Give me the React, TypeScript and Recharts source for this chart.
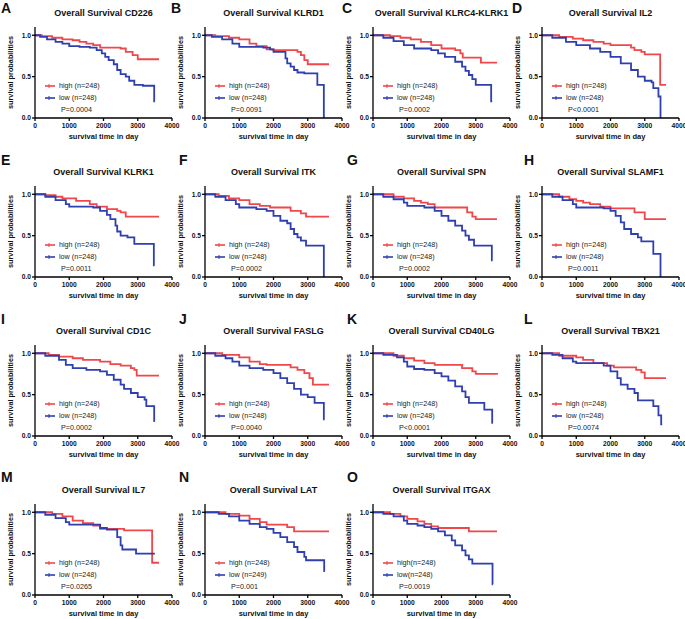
import { Legend, Line, LineChart, XAxis, YAxis } from "recharts";

type Pt = [number, number];

const letters = ["A", "B", "C", "D", "E", "F", "G", "H", "I", "J", "K", "L", "M", "N", "O"];
const genes = ["CD226", "KLRD1", "KLRC4-KLRK1", "IL2", "KLRK1", "ITK", "SPN", "SLAMF1", "CD1C", "FASLG", "CD40LG", "TBX21", "IL7", "LAT", "ITGAX"];
const pValues = ["P=0.0004", "P=0.0091", "P=0.0002", "P<0.0001", "P=0.0011", "P=0.0002", "P=0.0002", "P=0.0011", "P=0.0002", "P=0.0040", "P<0.0001", "P=0.0074", "P=0.0265", "P=0.001", "P=0.0019"];
const highLabels = ["high (n=248)", "high (n=248)", "high (n=248)", "high (n=248)", "high (n=248)", "high (n=248)", "high (n=248)", "high (n=248)", "high (n=248)", "high (n=248)", "high (n=248)", "high (n=248)", "high (n=248)", "high (n=248)", "high(n=248)"];
const lowLabels = ["low (n=248)", "low (n=248)", "low (n=248)", "low (n=248)", "low (n=248)", "low (n=248)", "low (n=248)", "low (n=248)", "low (n=248)", "low (n=248)", "low (n=248)", "low (n=248)", "low (n=248)", "low (n=249)", "low(n=248)"];
const xTicks = [0, 1000, 2000, 3000, 4000];
const yTicks = [0, 0.5, 1.0];

const cd226High: Pt[] = [[0, 1], [200, 0.99], [500, 0.97], [800, 0.95], [1100, 0.94], [1300, 0.92], [1500, 0.9], [1700, 0.88], [1900, 0.85], [2500, 0.84], [2650, 0.8], [2850, 0.76], [3000, 0.71], [3620, 0.71]];
const cd226Low: Pt[] = [[0, 1], [150, 0.98], [350, 0.95], [600, 0.92], [800, 0.9], [1000, 0.87], [1300, 0.86], [1600, 0.85], [1800, 0.82], [1950, 0.78], [2050, 0.74], [2150, 0.7], [2300, 0.65], [2400, 0.58], [2500, 0.53], [2650, 0.5], [2750, 0.45], [2900, 0.4], [3150, 0.39], [3480, 0.2], [3500, 0.2]];
const klrd1High: Pt[] = [[0, 1], [300, 0.99], [700, 0.97], [1000, 0.95], [1300, 0.9], [1500, 0.87], [1800, 0.83], [2000, 0.82], [2700, 0.8], [2800, 0.76], [2900, 0.7], [3000, 0.65], [3620, 0.65]];
const klrd1Low: Pt[] = [[0, 1], [200, 0.98], [500, 0.95], [800, 0.9], [1000, 0.86], [1700, 0.85], [1900, 0.83], [2000, 0.8], [2350, 0.72], [2400, 0.66], [2500, 0.62], [2600, 0.58], [2700, 0.55], [2900, 0.54], [3280, 0.4], [3470, 0]];
const klrc4High: Pt[] = [[0, 1], [500, 0.99], [800, 0.97], [1100, 0.95], [1400, 0.92], [1700, 0.88], [2000, 0.84], [2400, 0.82], [2550, 0.78], [2620, 0.73], [3150, 0.67], [3620, 0.67]];
const klrc4Low: Pt[] = [[0, 1], [300, 0.97], [600, 0.93], [900, 0.88], [1200, 0.84], [1700, 0.82], [1900, 0.78], [2100, 0.74], [2400, 0.68], [2600, 0.62], [2700, 0.57], [2800, 0.52], [2900, 0.47], [3000, 0.4], [3450, 0.2], [3480, 0.2]];
const il2High: Pt[] = [[0, 1], [500, 0.98], [900, 0.96], [1200, 0.94], [1500, 0.92], [1800, 0.9], [2000, 0.88], [2600, 0.85], [2700, 0.82], [2900, 0.8], [3000, 0.77], [3450, 0.4], [3620, 0.4]];
const il2Low: Pt[] = [[0, 1], [300, 0.97], [700, 0.92], [1000, 0.88], [1400, 0.84], [1700, 0.8], [2000, 0.74], [2300, 0.66], [2600, 0.58], [2800, 0.5], [3000, 0.45], [3200, 0.43], [3250, 0.36], [3400, 0.26], [3460, 0]];
const klrk1High: Pt[] = [[0, 1], [300, 0.99], [600, 0.97], [800, 0.95], [1200, 0.92], [1600, 0.88], [1800, 0.85], [2100, 0.82], [2400, 0.8], [2500, 0.78], [2650, 0.73], [3620, 0.73]];
const klrk1Low: Pt[] = [[0, 1], [300, 0.97], [600, 0.93], [900, 0.88], [1000, 0.85], [1700, 0.84], [1900, 0.8], [2100, 0.75], [2200, 0.7], [2350, 0.62], [2400, 0.55], [2500, 0.5], [2700, 0.48], [2900, 0.4], [3470, 0.14], [3490, 0.14]];
const itkHigh: Pt[] = [[0, 1], [400, 0.98], [700, 0.95], [1000, 0.93], [1300, 0.88], [1600, 0.86], [1900, 0.84], [2500, 0.8], [2800, 0.77], [2950, 0.73], [3620, 0.73]];
const itkLow: Pt[] = [[0, 1], [300, 0.97], [600, 0.93], [900, 0.88], [1000, 0.84], [1500, 0.82], [1800, 0.8], [2000, 0.74], [2200, 0.68], [2400, 0.65], [2500, 0.58], [2600, 0.52], [2700, 0.48], [2800, 0.44], [2950, 0.38], [3470, 0]];
const spnHigh: Pt[] = [[0, 1], [600, 0.97], [900, 0.95], [1200, 0.92], [1400, 0.9], [1600, 0.88], [1800, 0.84], [2750, 0.78], [2900, 0.73], [3000, 0.7], [3620, 0.7]];
const spnLow: Pt[] = [[0, 1], [300, 0.97], [600, 0.94], [900, 0.9], [1000, 0.86], [1500, 0.84], [1800, 0.8], [2000, 0.74], [2200, 0.68], [2400, 0.62], [2600, 0.56], [2700, 0.5], [2800, 0.45], [2950, 0.38], [3470, 0.2], [3490, 0.2]];
const slamf1High: Pt[] = [[0, 1], [500, 0.97], [800, 0.94], [1000, 0.92], [1200, 0.9], [1400, 0.88], [1700, 0.85], [2000, 0.83], [2700, 0.78], [3000, 0.7], [3620, 0.7]];
const slamf1Low: Pt[] = [[0, 1], [300, 0.97], [600, 0.93], [900, 0.88], [1000, 0.84], [1800, 0.83], [2000, 0.8], [2150, 0.74], [2300, 0.66], [2400, 0.58], [2600, 0.52], [2800, 0.48], [2900, 0.43], [3250, 0.28], [3460, 0]];
const cd1cHigh: Pt[] = [[0, 1], [400, 0.98], [700, 0.96], [1100, 0.94], [1400, 0.92], [1900, 0.9], [2200, 0.87], [2500, 0.85], [2800, 0.82], [2900, 0.8], [2970, 0.73], [3620, 0.73]];
const cd1cLow: Pt[] = [[0, 1], [300, 0.97], [700, 0.92], [900, 0.86], [1100, 0.82], [1500, 0.8], [1900, 0.78], [2100, 0.74], [2300, 0.68], [2500, 0.62], [2600, 0.57], [2800, 0.52], [3000, 0.47], [3200, 0.44], [3250, 0.36], [3480, 0.18], [3500, 0.18]];
const faslgHigh: Pt[] = [[0, 1], [500, 0.98], [1000, 0.95], [1300, 0.9], [1600, 0.87], [1800, 0.86], [2500, 0.83], [2700, 0.8], [2900, 0.76], [3050, 0.7], [3150, 0.62], [3620, 0.62]];
const faslgLow: Pt[] = [[0, 1], [300, 0.97], [600, 0.94], [800, 0.9], [1000, 0.85], [1300, 0.82], [1700, 0.8], [2000, 0.76], [2200, 0.7], [2400, 0.64], [2600, 0.57], [2800, 0.5], [3000, 0.47], [3200, 0.4], [3470, 0.2], [3490, 0.2]];
const cd40lgHigh: Pt[] = [[0, 1], [600, 0.97], [900, 0.94], [1200, 0.91], [1500, 0.88], [1800, 0.86], [2600, 0.82], [2900, 0.78], [3000, 0.75], [3620, 0.74]];
const cd40lgLow: Pt[] = [[0, 1], [300, 0.98], [700, 0.95], [900, 0.9], [1000, 0.84], [1200, 0.81], [1500, 0.8], [1800, 0.76], [2000, 0.72], [2200, 0.67], [2400, 0.6], [2600, 0.54], [2700, 0.47], [2800, 0.4], [3250, 0.32], [3480, 0.16], [3500, 0.16]];
const tbx21High: Pt[] = [[0, 1], [500, 0.97], [1000, 0.95], [1200, 0.92], [1500, 0.88], [1900, 0.85], [2100, 0.83], [2750, 0.8], [2900, 0.77], [3000, 0.7], [3620, 0.7]];
const tbx21Low: Pt[] = [[0, 1], [300, 0.98], [600, 0.94], [900, 0.9], [1000, 0.88], [1800, 0.85], [2000, 0.78], [2200, 0.7], [2300, 0.62], [2500, 0.57], [2700, 0.52], [2800, 0.43], [3250, 0.36], [3400, 0.25], [3480, 0.14], [3510, 0.14]];
const il7High: Pt[] = [[0, 1], [500, 0.98], [800, 0.95], [1100, 0.9], [1400, 0.87], [1700, 0.84], [1900, 0.8], [2600, 0.78], [3420, 0.39], [3620, 0.39]];
const il7Low: Pt[] = [[0, 1], [300, 0.97], [600, 0.93], [900, 0.88], [1000, 0.85], [1900, 0.81], [2100, 0.79], [2400, 0.7], [2500, 0.6], [2550, 0.55], [2950, 0.5], [3500, 0.5]];
const latHigh: Pt[] = [[0, 1], [600, 0.98], [1000, 0.96], [1300, 0.92], [1600, 0.88], [1800, 0.85], [2400, 0.82], [2600, 0.77], [3620, 0.77]];
const latLow: Pt[] = [[0, 1], [400, 0.98], [700, 0.95], [1000, 0.9], [1300, 0.86], [1600, 0.82], [1800, 0.8], [2000, 0.75], [2200, 0.7], [2400, 0.64], [2600, 0.58], [2700, 0.52], [2900, 0.46], [2950, 0.42], [3480, 0.29], [3500, 0.29]];
const itgaxHigh: Pt[] = [[0, 1], [500, 0.98], [800, 0.95], [1000, 0.92], [1300, 0.89], [1500, 0.86], [1700, 0.83], [1900, 0.81], [2800, 0.77], [3620, 0.77]];
const itgaxLow: Pt[] = [[0, 1], [300, 0.98], [600, 0.95], [900, 0.9], [1000, 0.86], [1300, 0.84], [1500, 0.82], [1700, 0.8], [1900, 0.77], [2100, 0.72], [2300, 0.66], [2400, 0.6], [2600, 0.54], [2700, 0.48], [2800, 0.43], [2900, 0.38], [3490, 0.13], [3500, 0.13]];

const highCurves = [cd226High, klrd1High, klrc4High, il2High, klrk1High, itkHigh, spnHigh, slamf1High, cd1cHigh, faslgHigh, cd40lgHigh, tbx21High, il7High, latHigh, itgaxHigh];
const lowCurves = [cd226Low, klrd1Low, klrc4Low, il2Low, klrk1Low, itkLow, spnLow, slamf1Low, cd1cLow, faslgLow, cd40lgLow, tbx21Low, il7Low, latLow, itgaxLow];

const RED = "#f0474a";
const BLUE = "#2f3fb0";
const FONT = "'Liberation Sans', Arial, Helvetica, sans-serif";

const colLeft = [0, 170, 338, 507];
const rowTop = [0, 159, 318, 477];
const letterX = [[1, 171, 342, 512], [1, 179, 347, 524], [1, 179, 347, 524], [1, 179, 347, 524]];
const letterY = [1, 153, 312, 470];

const toRows = (pts: Pt[]) => pts.map(([t, s]) => ({ t, s }));

function LegendBox({ payload, p }: any) {
  return (
    <div style={{ fontSize: 7.2, lineHeight: "12px", color: "#222", whiteSpace: "nowrap" }}>
      {(payload || []).map((e: any) => (
        <div key={e.value} style={{ display: "flex", alignItems: "center" }}>
          <svg width={10} height={12} style={{ marginRight: 4 }}>
            <line x1={0} y1={6} x2={10} y2={6} stroke={e.color} strokeWidth={1.6} />
            <line x1={4} y1={4} x2={4} y2={8} stroke={e.color} strokeWidth={1} />
          </svg>
          <span>{e.value}</span>
        </div>
      ))}
      <div style={{ marginLeft: 16 }}>{p}</div>
    </div>
  );
}

function Panel({ i }: { i: number }) {
  const row = Math.floor(i / 4);
  const col = i % 4;
  const left = colLeft[col];
  const top = rowTop[row];
  const axis = { stroke: "#000", strokeWidth: 1.3 };
  const tick = { fontSize: 6.7, fontWeight: 700, fill: "#111" };
  return (
    <>
      <div style={{ position: "absolute", left: letterX[row][col], top: letterY[row], fontSize: 14, fontWeight: 700, lineHeight: "14px" }}>
        {letters[i]}
      </div>
      <div style={{ position: "absolute", left: left + 35, top: top + 8.5, width: 137, textAlign: "center", fontSize: 9, fontWeight: 700, lineHeight: "9px", whiteSpace: "nowrap" }}>
        Overall Survival {genes[i]}
      </div>
      <div style={{ position: "absolute", left, top }}>
        <LineChart width={180} height={144} margin={{ top: 27, right: 8, bottom: 0, left: 0 }}>
          <XAxis
            type="number"
            dataKey="t"
            domain={[0, 4000]}
            ticks={xTicks}
            interval={0}
            height={26}
            tickSize={3}
            axisLine={axis}
            tickLine={axis}
            tick={tick}
            label={{ value: "survival time in day", position: "insideBottom", offset: 5, style: { fontSize: 7.5, fontWeight: 700, fill: "#111" } }}
          />
          <YAxis
            type="number"
            domain={[0, 1.1]}
            ticks={yTicks}
            interval={0}
            width={35}
            tickSize={3}
            tickMargin={1}
            axisLine={axis}
            tickLine={axis}
            tick={tick}
            tickFormatter={(v: number) => v.toFixed(1)}
            label={{ value: "survival probabilities", angle: -90, position: "insideLeft", offset: 10, style: { textAnchor: "middle", fontSize: 7.3, fontWeight: 700, fill: "#111" } }}
          />
          <Legend
            layout="vertical"
            align="center"
            verticalAlign="middle"
            wrapperStyle={{ left: 45, top: 80, width: 110 }}
            content={(props: any) => <LegendBox payload={props.payload} p={pValues[i]} />}
          />
          <Line data={toRows(highCurves[i])} dataKey="s" name={highLabels[i]} type="stepAfter" stroke={RED} strokeWidth={1.8} dot={false} isAnimationActive={false} />
          <Line data={toRows(lowCurves[i])} dataKey="s" name={lowLabels[i]} type="stepAfter" stroke={BLUE} strokeWidth={1.8} dot={false} isAnimationActive={false} />
        </LineChart>
      </div>
    </>
  );
}

export default function App() {
  return (
    <div style={{ position: "absolute", left: 0, top: 0, width: 685, height: 619, background: "#fff", fontFamily: FONT, color: "#111", overflow: "hidden" }}>
      {genes.map((_, i) => (
        <Panel key={i} i={i} />
      ))}
    </div>
  );
}
